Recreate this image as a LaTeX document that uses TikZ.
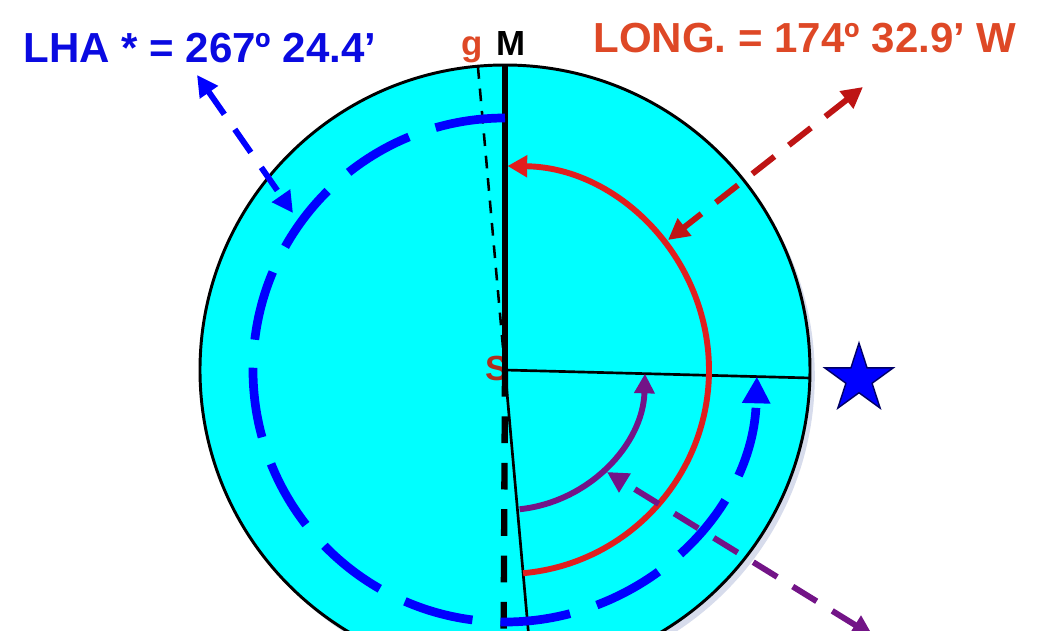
\documentclass[tikz,border=0pt]{standalone}
\usepackage{amsmath,amssymb}
\usepackage{fontspec}
\setmainfont{Liberation Sans}
\usetikzlibrary{arrows.meta,shapes.geometric}
\definecolor{disc}{RGB}{0,255,255}
\definecolor{lhablue}{RGB}{10,10,225}
\definecolor{longred}{RGB}{222,72,38}
\definecolor{arcred}{RGB}{225,30,30}
\definecolor{ptrred}{RGB}{190,20,20}
\definecolor{tpurple}{RGB}{115,20,135}
\definecolor{sred}{RGB}{175,45,30}
\definecolor{shadowcol}{RGB}{215,220,236}

\begin{document}
\begin{tikzpicture}[
		ptr/.style={line width=4.2pt,dash pattern=on 20pt off 13pt,{Triangle[length=15pt,width=15pt]}-{Triangle[length=15pt,width=15pt]}},
		bigtext/.style={font=\bfseries\fontsize{29.9}{34}\selectfont,inner sep=0pt,anchor=base},
		midtext/.style={font=\bfseries\fontsize{24.8}{30}\selectfont,inner sep=0pt},
	]
			\clip (-12.625,-6.5) rectangle (13.6,9.25);
			\coordinate (S) at (0,0);
			\coordinate (Mtop) at (90:7.625);
			\coordinate (Mbot) at (-90.3:7.625);
			\coordinate (gtop) at (95.1:7.625);
			\coordinate (gbot) at (-84.9:7.625);
			\coordinate (hstar) at (-1.5:7.625);
			\fill[shadowcol] (0.12,-0.15) circle (7.625);
			\draw[line width=2.1pt, fill=disc] (S) circle (7.625);
			\node[midtext,text=sred] (slabel) at (-0.2,0.05) {S};
			\draw[line width=4.5pt] (S) -- (Mtop);
			\draw[line width=4.5pt,dash pattern=on 19pt off 14pt] (S) -- (Mbot);
			\draw[line width=1.8pt,dash pattern=on 9pt off 7pt] (S) -- (gtop);
			\draw[line width=1.9pt] (S) -- (gbot);
			\draw[line width=1.9pt] (S) -- (hstar);
			\draw[line width=4.2pt,arcred,-{Triangle[length=14pt,width=15pt]}] (-84.9:5.1) arc (-84.9:89.3:5.1);
			\draw[line width=4.2pt,tpurple,-{Triangle[length=14pt,width=14pt]}] (-84:3.5) arc (-84:-1.5:3.5);
			\draw[line width=6.2pt,blue,dash pattern=on 50pt off 20pt,-{Triangle[length=19pt,width=19pt]}] (90:6.3) arc (90:358.5:6.3);
			\coordinate (lhaA) at (-7.7,7.375);
			\coordinate (lhaB) at (-5.3,3.925);
			\coordinate (longA) at (8.95,7.075);
			\coordinate (longB) at (4.075,3.25);
			\coordinate (purA) at (2.55,-2.55);
			\coordinate (purB) at (9.2,-6.65);
			\draw[ptr,blue] (lhaA) -- (lhaB);
			\draw[ptr,ptrred] (longA) -- (longB);
			\draw[ptr,tpurple] (purB) -- (purA);
			\node[star,star points=5,star point ratio=2.618,minimum size=1.8cm,inner sep=0pt,fill=blue,draw=black!60!blue,line width=1pt] (star) at (8.85,-0.225) {};
			\node[midtext,anchor=base] (mlabel) at (0.15,7.875) {M};
			\node[midtext,anchor=base,text=longred] (glabel) at (-0.825,7.875) {g};
			\node[bigtext,text=lhablue] (lha) at (-7.625,7.7) {LHA * = 267º 24.4’};
			\node[bigtext,text=longred] (long) at (7.5,7.95) {LONG. = 174º 32.9’ W};
	\end{tikzpicture}
\end{document}
